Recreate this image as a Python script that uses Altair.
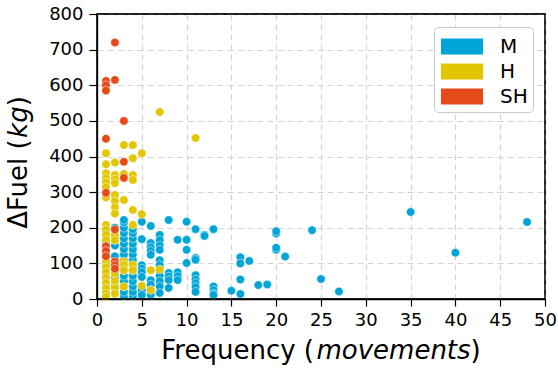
import altair as alt
import pandas as pd

categories = ["M", "H", "SH"]
colors = ["#00a5d8", "#e2c700", "#e64a19"]

# M points: frequency -> list of fuel values
m_points = {
    1: [20, 40, 60, 80, 100, 130, 160, 190],
    2: [15, 35, 60, 90, 120, 150, 175, 200],
    3: [8, 20, 35, 50, 65, 80, 95, 110, 125, 140, 155, 170, 185, 200, 215, 222],
    4: [8, 20, 35, 50, 65, 80, 95, 110, 125, 140, 155, 170, 185, 196],
    5: [217, 168, 95, 85, 75, 62, 25, 11],
    6: [205, 157, 145, 135, 124, 53, 40, 25, 11],
    7: [180, 165, 150, 138, 109, 95, 80, 65, 50, 35, 17],
    8: [222, 73, 63, 53, 31],
    9: [166, 75, 64, 53],
    10: [217, 166, 138, 101],
    11: [196, 115, 110, 67, 55, 45, 34, 20],
    12: [180, 177],
    13: [196, 35, 25, 15, 11],
    15: [23],
    16: [117, 100, 55, 14],
    17: [107],
    18: [39],
    19: [41],
    20: [184, 190, 138, 144],
    21: [119],
    24: [193],
    25: [56],
    27: [21],
    35: [244],
    40: [130],
    48: [216],
}
h_points = {
    1: [409, 378, 353, 340, 327, 314, 285, 208, 195, 180, 166, 118, 105, 90, 75, 60, 45, 30, 15, 6],
    2: [383, 348, 336, 325, 292, 275, 258, 240, 180, 165, 70, 50, 30, 15],
    3: [432, 351, 278, 105, 95, 81, 35],
    4: [432, 395, 348, 334, 250, 208, 96, 81],
    5: [409, 238, 37],
    6: [81, 25],
    7: [525, 83],
    11: [452],
}
sh_points = {
    1: [612, 600, 585, 450, 298, 148, 135, 120],
    2: [720, 615, 195, 105, 95, 85],
    3: [500, 385, 340],
}

x_ticks = list(range(0, 51, 5))
y_ticks = list(range(0, 801, 100))

x_title_parts = ["Frequency (", "movements", ")"]
y_title_parts = ["\u0394Fuel (", "kg", ")"]
italic_flags = [False, True, False]

rows = []
for cat, pts in zip(categories, [m_points, h_points, sh_points]):
    for fx, ys in pts.items():
        for fy in ys:
            rows.append({"freq": fx, "fuel": fy, "cat": cat})
df = pd.DataFrame(rows)

W, H = 448, 285
FONT = "DejaVu Sans"
TITLE_SIZE = 26

# DejaVu Sans advance widths (em)
adv = {"F": .575, "r": .411, "e": .615, "q": .635, "u": .634, "n": .634, "c": .550,
       "y": .592, " ": .318, "(": .390, ")": .390, "m": .974, "o": .612, "v": .592,
       "t": .392, "s": .521, "\u0394": .684, "l": .278, "k": .579, "g": .635}


def width(s):
    return sum(adv.get(ch, 0.6) for ch in s) * TITLE_SIZE


points = alt.Chart(df).mark_circle(size=72, opacity=1, stroke="white", strokeWidth=0.5).encode(
    x=alt.X("freq:Q", scale=alt.Scale(domain=[0, 50], nice=False),
            axis=alt.Axis(values=x_ticks, title=None, labelFlush=False, tickSize=7, labelPadding=5)),
    y=alt.Y("fuel:Q", scale=alt.Scale(domain=[0, 800], nice=False),
            axis=alt.Axis(values=y_ticks, title=None, tickSize=8, labelPadding=6)),
    color=alt.Color("cat:N", scale=alt.Scale(domain=categories, range=colors),
                    legend=alt.Legend(title=None, orient="none", legendX=337, legendY=13,
                                      symbolType="M-1.45,-0.55H1.45V0.55H-1.45Z",
                                      symbolSize=841, symbolStrokeWidth=0,
                                      labelFont=FONT, labelFontSize=20, labelColor="black",
                                      labelOffset=23.5, symbolOffset=8.5, padding=5,
                                      rowPadding=0, fillColor="white", strokeColor="#cccccc",
                                      cornerRadius=4, symbolOpacity=1)),
)

layers = [points]

# frame around the plot area (solid black spines)
frame = alt.Chart(pd.DataFrame({"f": [0]})).mark_rect(
    fillOpacity=0, stroke="black", strokeWidth=1.3).encode(
    x=alt.value(0), x2=alt.value(W), y=alt.value(0), y2=alt.value(H))
layers.append(frame)

# x title pieces
total_x = sum(width(p) for p in x_title_parts)
start = W / 2 - total_x / 2
for part, it in zip(x_title_parts, italic_flags):
    layers.append(alt.Chart(pd.DataFrame({"t": [part]})).mark_text(
        font=FONT, fontSize=TITLE_SIZE, fontStyle="italic" if it else "normal",
        align="left", baseline="alphabetic", color="black").encode(
        x=alt.value(start), y=alt.value(345), text="t:N"))
    start += width(part)

# y title pieces (rotated, reading bottom to top)
total_y = sum(width(p) for p in y_title_parts)
ypos = H / 2 + 6 + total_y / 2
for part, it in zip(y_title_parts, italic_flags):
    layers.append(alt.Chart(pd.DataFrame({"t": [part]})).mark_text(
        font=FONT, fontSize=TITLE_SIZE, fontStyle="italic" if it else "normal",
        align="left", baseline="alphabetic", angle=270, color="black").encode(
        x=alt.value(-70), y=alt.value(ypos), text="t:N"))
    ypos -= width(part)

chart = alt.layer(*layers).properties(
    width=W, height=H,
    padding={"left": 97, "top": 14, "right": 13, "bottom": 73},
    autosize=alt.AutoSizeParams(type="none"),
).configure_view(stroke="black", strokeWidth=1.3).configure_axis(
    grid=True, gridColor="#d3d3d3", gridDash=[6, 4], gridWidth=1.2,
    domainColor="black", domainWidth=1.3, tickColor="black", tickWidth=1.2,
    labelColor="black", labelFont=FONT, labelFontSize=18,
)

chart.save("out.html", embed_options={"renderer": "svg", "actions": False})
